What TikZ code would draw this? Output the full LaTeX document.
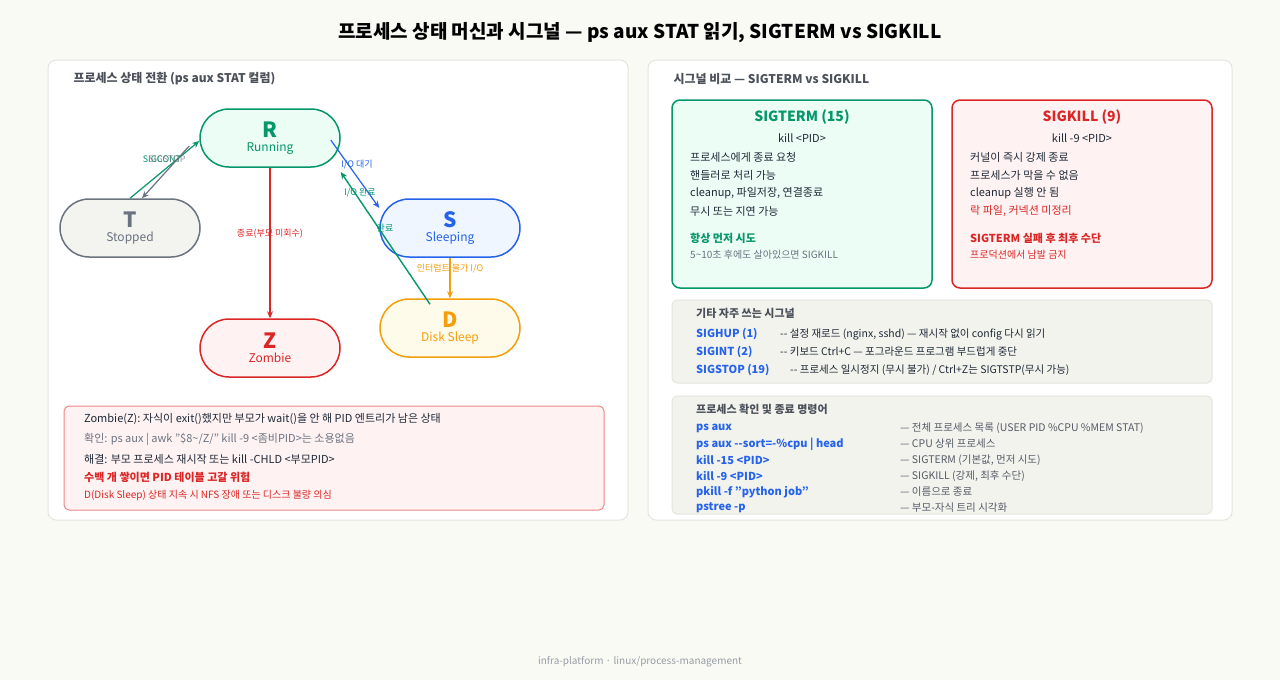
\documentclass[tikz,border=0pt]{standalone}
\usepackage{fontspec}
\setmainfont{Noto Sans CJK KR}
\usetikzlibrary{arrows.meta,calc}
\definecolor{bg}{HTML}{FAFAF5}
\definecolor{gr}{HTML}{059669}
\definecolor{grf}{HTML}{ECFDF5}
\definecolor{rd}{HTML}{DC2626}
\definecolor{rdf}{HTML}{FEF2F2}
\definecolor{bl}{HTML}{2563EB}
\definecolor{blf}{HTML}{EFF6FF}
\definecolor{yl}{HTML}{F59E0B}
\definecolor{ylf}{HTML}{FFFBEB}
\definecolor{gy}{HTML}{6B7280}
\definecolor{gyf}{HTML}{F3F4EF}
\definecolor{tx}{HTML}{1F2937}
\definecolor{pb}{HTML}{E5E5DF}
\definecolor{gbox}{HTML}{F3F3EE}
\newcommand{\dq}{\symbol{34}}
\begin{document}
\begin{tikzpicture}[x=1pt,y=-1pt,
  panel/.style={draw=pb,fill=white,rounded corners=8pt,line width=1pt},
  st/.style={draw=#1,line width=1.5pt,rounded corners=29pt,minimum width=140pt,minimum height=58pt,inner sep=0pt,align=center},
  ar/.style={-{Stealth[length=7pt,width=6pt]},line width=1.4pt,draw=#1},
  lbl/.style={font=\fontsize{9}{10}\selectfont,text=#1},
  t/.style={anchor=west,font=\fontsize{11}{13}\selectfont,text=tx,inner sep=0pt},
  c/.style={anchor=west,font=\fontsize{11}{13}\selectfont\bfseries,text=bl,inner sep=0pt},
  d/.style={anchor=west,font=\fontsize{10.5}{13}\selectfont,text=tx,inner sep=0pt}]
\fill[bg] (0,0) rectangle (1280,680);
\node (title) at (640,33) {\fontsize{19}{22}\selectfont\bfseries 프로세스 상태 머신과 시그널 — ps aux STAT 읽기, SIGTERM vs SIGKILL};
\draw[panel] (48,60) rectangle (628,520);
\draw[panel] (648,60) rectangle (1232,520);
\node[anchor=west,text=gy!70!black] (lt) at (70,79) {\fontsize{12}{14}\selectfont\bfseries 프로세스 상태 전환 (ps aux STAT 컬럼)};
\node[anchor=west,text=gy!70!black] (rt) at (670,79) {\fontsize{12}{14}\selectfont\bfseries 시그널 비교 — SIGTERM vs SIGKILL};
% states
\node[st=gr,fill=grf] (R) at (270,138) {\fontsize{21}{22}\selectfont\bfseries\color{gr}R\\[2pt]\fontsize{12}{14}\selectfont\color{gr}Running};
\node[st=gy,fill=gyf] (T) at (130,228) {\fontsize{21}{22}\selectfont\bfseries\color{gy}T\\[2pt]\fontsize{12}{14}\selectfont\color{gy}Stopped};
\node[st=bl,fill=blf] (S) at (450,228) {\fontsize{21}{22}\selectfont\bfseries\color{bl}S\\[2pt]\fontsize{12}{14}\selectfont\color{bl}Sleeping};
\node[st=yl,fill=ylf] (D) at (450,328) {\fontsize{21}{22}\selectfont\bfseries\color{yl}D\\[2pt]\fontsize{12}{14}\selectfont\color{yl}Disk Sleep};
\node[st=rd,fill=rdf] (Z) at (270,348) {\fontsize{21}{22}\selectfont\bfseries\color{rd}Z\\[2pt]\fontsize{12}{14}\selectfont\color{rd}Zombie};
% arrows
\draw[ar=gr,line width=1.2pt] (T.north) -- ($(R.west)+(0,3)$);
\draw[ar=gy,line width=1.2pt] ($(R.west)+(-10,8)$) -- ($(T.north)+(12,0)$);
\draw[ar=rd] (R.south) -- (Z.north);
\draw[ar=bl,line width=1.2pt] ($(R.east)+(-10,2)$) -- ($(S.west)+(0,-20)$);
\draw[ar=gr] ($(D.north)+(-20,6)$) -- ($(R.east)+(0,34)$);
\draw[ar=yl] (S.south) -- (D.north);
% labels
\node[lbl=gr] (l1) at (162,159) {SIGCONT};
\node[lbl=gy,opacity=.7] (l2) at (167,159) {SIGSTOP};
\node[lbl=rd] (l3) at (270,234) {종료(부모 미회수)};
\node[lbl=bl] (l4) at (357,165) {I/O 대기};
\node[lbl=gr] (l5) at (360,193) {I/O 완료};
\node[lbl=gr] (l6) at (385,228) {완료};
\node[lbl=yl] (l7) at (450,269) {인터럽트 불가 I/O};
% zombie box
\draw[rd!55,fill=rdf,rounded corners=5pt,line width=1pt] (64,406) rectangle (604,510);
\node[t] (z1) at (84,419) {Zombie(Z): 자식이 exit()했지만 부모가 wait()을 안 해 PID 엔트리가 남은 상태};
\node[t,text=gy] (z2) at (84,439) {확인: ps aux | awk \dq\$8\textasciitilde/Z/\dq{} kill -9 <좀비PID>는 소용없음};
\node[t] (z3) at (84,459) {해결: 부모 프로세스 재시작 또는 kill -CHLD <부모PID>};
\node[t,text=rd,font=\fontsize{11}{13}\selectfont\bfseries] (z4) at (84,477) {수백 개 쌓이면 PID 테이블 고갈 위험};
\node[t,text=rd,font=\fontsize{10}{12}\selectfont] (z5) at (84,496) {D(Disk Sleep) 상태 지속 시 NFS 장애 또는 디스크 불량 의심};
% SIGTERM card
\draw[gr,fill=grf,rounded corners=8pt,line width=1.5pt] (672,100) rectangle (932,288);
\node[font=\fontsize{14}{16}\selectfont\bfseries,text=gr] (s1) at (802,117) {SIGTERM (15)};
\node[font=\fontsize{11}{13}\selectfont,text=tx] (s2) at (802,138) {kill <PID>};
\node[t] (s3) at (690,157) {프로세스에게 종료 요청};
\node[t] (s4) at (690,175) {핸들러로 처리 가능};
\node[t] (s5) at (690,193) {cleanup, 파일저장, 연결종료};
\node[t] (s6) at (690,211) {무시 또는 지연 가능};
\node[t,text=gr,font=\fontsize{11}{13}\selectfont\bfseries] (s7) at (690,238) {항상 먼저 시도};
\node[t,text=gy,font=\fontsize{10}{12}\selectfont] (s8) at (690,255) {5\textasciitilde10초 후에도 살아있으면 SIGKILL};
% SIGKILL card
\draw[rd,fill=rdf,rounded corners=8pt,line width=1.5pt] (952,100) rectangle (1212,288);
\node[font=\fontsize{14}{16}\selectfont\bfseries,text=rd] (k1) at (1082,117) {SIGKILL (9)};
\node[font=\fontsize{11}{13}\selectfont,text=tx] (k2) at (1082,138) {kill -9 <PID>};
\node[t] (k3) at (970,157) {커널이 즉시 강제 종료};
\node[t] (k4) at (970,175) {프로세스가 막을 수 없음};
\node[t] (k5) at (970,193) {cleanup 실행 안 됨};
\node[t,text=rd] (k6) at (970,211) {락 파일, 커넥션 미정리};
\node[t,text=rd,font=\fontsize{11}{13}\selectfont\bfseries] (k7) at (970,238) {SIGTERM 실패 후 최후 수단};
\node[t,text=rd,font=\fontsize{10}{12}\selectfont] (k8) at (970,255) {프로덕션에서 남발 금지};
% other signals
\draw[pb,fill=gbox,rounded corners=5pt,line width=1pt] (672,300) rectangle (1212,383);
\node[t,text=gy!70!black,font=\fontsize{11}{13}\selectfont\bfseries] (o0) at (696,313) {기타 자주 쓰는 시그널};
\node[c] (o1) at (696,334) {SIGHUP (1)};
\node[d] (o1d) at (780,334) {-{}- 설정 재로드 (nginx, sshd) — 재시작 없이 config 다시 읽기};
\node[c] (o2) at (696,352) {SIGINT (2)};
\node[d] (o2d) at (780,352) {-{}- 키보드 Ctrl+C — 포그라운드 프로그램 부드럽게 중단};
\node[c] (o3) at (696,370) {SIGSTOP (19)};
\node[d] (o3d) at (790,370) {-{}- 프로세스 일시정지 (무시 불가) / Ctrl+Z는 SIGTSTP(무시 가능)};
% commands
\draw[pb,fill=gbox,rounded corners=5pt,line width=1pt] (672,396) rectangle (1212,514);
\node[t,text=gy!70!black,font=\fontsize{11}{13}\selectfont\bfseries] (m0) at (696,409) {프로세스 확인 및 종료 명령어};
\foreach \i/\cmd/\desc in {0/{ps aux}/{— 전체 프로세스 목록 (USER PID \%CPU \%MEM STAT)},1/{ps aux -{}-sort=-\%cpu | head}/{— CPU 상위 프로세스},2/{kill -15 <PID>}/{— SIGTERM (기본값, 먼저 시도)},3/{kill -9 <PID>}/{— SIGKILL (강제, 최후 수단)},4/{pkill -f \dq python job\dq}/{— 이름으로 종료},5/{pstree -p}/{— 부모-자식 트리 시각화}}{
  \node[c] (mc\i) at (696,428+16*\i) {\cmd};
  \node[d,text=gy!80!black] (md\i) at (900,428+16*\i) {\desc};
}
\node[text=gy!70,font=\fontsize{10}{12}\selectfont] (foot) at (640,662) {infra-platform · linux/process-management};
\end{tikzpicture}
\end{document}
